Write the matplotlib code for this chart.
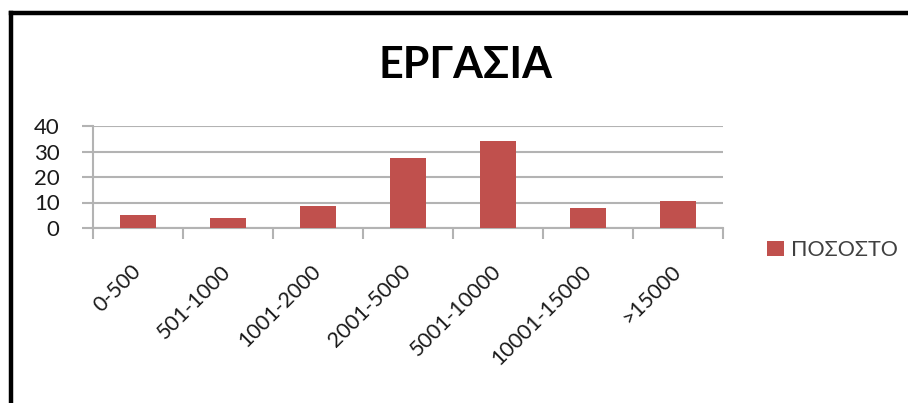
import matplotlib.pyplot as plt
from matplotlib.lines import Line2D

# ποσοστό ανά κλίμακα
categories = ['0-500', '501-1000', '1001-2000', '2001-5000',
              '5001-10000', '10001-15000', '>15000']
values = [5.1, 3.8, 8.6, 27.3, 34.2, 7.7, 10.7]
yticks = [0, 10, 20, 30, 40]

bar_color = '#C0504D'
grid_color = '#B3B3B3'
fam = ['Lato', 'Roboto', 'DejaVu Sans']

fig = plt.figure(figsize=(9.08, 4.03), dpi=100)
ax = fig.add_axes([93 / 908, 1 - 228 / 403, 630 / 908, 102 / 403])

x = range(len(categories))
ax.bar(x, values, width=0.4, color=bar_color, zorder=3, label='ΠΟΣΟΣΤΟ')

ax.set_xlim(-0.5, len(categories) - 0.5)
ax.set_ylim(0, 40)
ax.set_yticks(yticks)
ax.set_yticklabels([str(v) for v in yticks], fontsize=16,
                   family=fam, color='#1a1a1a')
ax.yaxis.grid(True, color=grid_color, linewidth=1.5, zorder=0)

# γραμμές διαίρεσης κατηγοριών στον άξονα x
ax.set_xticks([i - 0.5 for i in range(len(categories) + 1)], minor=False)
ax.set_xticklabels([''] * (len(categories) + 1))
ax.set_xticks([i - 0.08 for i in x], minor=True)
ax.set_xticklabels(categories, minor=True, rotation=45, ha='right',
                   rotation_mode='anchor', fontsize=15.5,
                   family=fam, color='#1a1a1a')
ax.tick_params(axis='x', which='minor', length=0, pad=24)
ax.tick_params(axis='x', which='major', length=8, width=1.5, color=grid_color)
ax.tick_params(axis='y', length=8, width=1.5, color=grid_color, pad=16)

for side in ['top', 'right']:
    ax.spines[side].set_visible(False)
for side in ['left', 'bottom']:
    ax.spines[side].set_color(grid_color)
    ax.spines[side].set_linewidth(1.5)

fig.text(466 / 908, 1 - 65 / 403, 'ΕΡΓΑΣΙΑ', ha='center', va='center',
         fontsize=31, fontweight='bold', family=fam)

leg = fig.legend(loc='center left', bbox_to_anchor=(748 / 908, 1 - 250 / 403),
                 frameon=False, handlelength=0.75, handleheight=0.75,
                 handletextpad=0.35, prop={'family': fam, 'size': 15.5})
for t in leg.get_texts():
    t.set_color('#404040')

# μαύρο πλαίσιο πάνω και αριστερά
fig.add_artist(Line2D([10.5 / 908, 10.5 / 908], [0, 1 - 13 / 403],
                      color='black', linewidth=3.2, solid_capstyle='projecting'))
fig.add_artist(Line2D([10.5 / 908, 1], [1 - 13 / 403, 1 - 13 / 403],
                      color='black', linewidth=3.2, solid_capstyle='projecting'))

fig.savefig('out.png', dpi=100)
